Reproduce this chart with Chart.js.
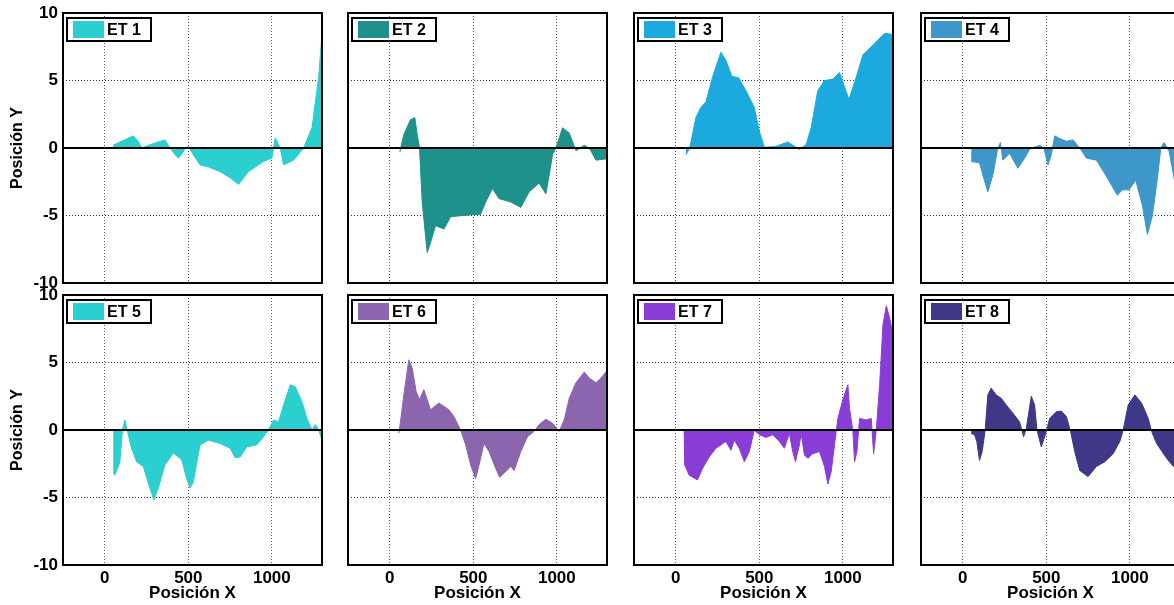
<!DOCTYPE html>
<html>
<head>
<meta charset="utf-8">
<script src="https://cdn.jsdelivr.net/npm/chart.js@4.4.0/dist/chart.umd.min.js"></script>
<style>
  body { margin: 0; width: 1174px; height: 605px; overflow: hidden; background: #fff; position: relative; }
  canvas { position: absolute; }
</style>
</head>
<body>
<script>
// tick labels
const xTicks = [0, 500, 1000];
const yTicks = [-10, -5, 0, 5, 10];

// series names and colours
const names = ['ET 1', 'ET 2', 'ET 3', 'ET 4', 'ET 5', 'ET 6', 'ET 7', 'ET 8'];
const colors = ['#2ccfcf', '#1e918a', '#1ba9de', '#3d98c9', '#2ccfcf', '#8b66ae', '#8a3dd6', '#3f3787'];

// values (Posición X / Posición Y)
const x1 = [50, 100, 170, 200, 220, 260, 320, 360, 390, 415, 440, 470, 480, 500, 530, 570, 620, 690, 750, 800, 860, 950, 1000, 1020, 1050, 1070, 1130, 1190, 1240, 1280, 1300];
const y1 = [0.2, 0.5, 0.9, 0.5, 0, 0.2, 0.45, 0.6, 0, -0.4, -0.75, -0.3, 0, 0.1, -0.5, -1.25, -1.4, -1.75, -2.2, -2.7, -1.75, -1.0, -0.75, 0.75, 0, -1.25, -0.9, 0, 1.5, 5.25, 8.5];

const x2 = [60, 84, 124, 150, 164, 178, 194, 224, 244, 274, 324, 364, 434, 544, 574, 614, 654, 724, 784, 834, 894, 934, 954, 974, 994, 1034, 1074, 1114, 1164, 1194, 1234, 1300];
const y2 = [-0.3, 1.0, 2.1, 2.25, 1.0, 0, -4, -7.75, -7, -5.75, -6, -5.1, -5, -4.9, -4, -3, -3.75, -4, -4.4, -3.25, -2.6, -3.4, -2, -0.5, 0, 1.5, 1.1, -0.2, 0.2, 0, -0.9, -0.8];

const x3 = [60, 84, 120, 150, 180, 220, 270, 300, 336, 376, 420, 470, 500, 530, 600, 670, 740, 780, 810, 850, 890, 940, 980, 1036, 1080, 1120, 1190, 1250, 1300];
const y3 = [-0.5, 0, 2.25, 3, 3.4, 5.25, 7.1, 6.5, 5.3, 5.2, 4.25, 3, 1.25, 0.05, 0.12, 0.45, -0.1, 0.25, 1.5, 4.25, 5, 5.1, 5.6, 3.6, 5.25, 6.9, 7.75, 8.5, 8.4];

const x4 = [50, 100, 120, 150, 180, 210, 225, 240, 280, 330, 370, 400, 460, 485, 510, 530, 550, 580, 620, 660, 700, 740, 800, 855, 925, 955, 995, 1035, 1075, 1105, 1135, 1165, 1185, 1205, 1235, 1270, 1300];
const y4 = [-1, -1.1, -2, -3.25, -2, 0, 0.4, -0.9, -0.4, -1.5, -0.75, -0.1, 0.2, 0, -1.25, -0.5, 0.9, 0.7, 0.5, 0.6, 0, -0.75, -0.9, -2, -3.5, -3.1, -3.1, -2.4, -4.25, -6.4, -5, -2.25, 0, 0.4, -0.25, -2.6, -3.0];

const x5 = [50, 60, 90, 106, 120, 134, 160, 190, 230, 270, 294, 320, 360, 410, 460, 490, 510, 530, 570, 620, 690, 750, 780, 810, 850, 910, 950, 980, 1010, 1040, 1070, 1110, 1140, 1180, 1210, 1240, 1260, 1280, 1300];
const y5 = [-3.1, -3.35, -2.4, 0, 0.75, 0, -1.35, -2.35, -2.7, -4.3, -5.2, -4.3, -2.6, -1.7, -2.2, -3.6, -4.3, -3.85, -1.1, -0.75, -1.0, -1.35, -2.05, -2, -1.25, -1.1, -0.5, 0, 0.75, 0.6, 1.85, 3.35, 3.2, 2.1, 0.85, 0, 0.4, 0, -0.75];

const x6 = [54, 64, 84, 114, 134, 158, 178, 204, 224, 244, 294, 354, 384, 424, 454, 484, 514, 534, 564, 594, 634, 658, 684, 724, 744, 784, 824, 864, 894, 934, 974, 1014, 1044, 1074, 1114, 1164, 1194, 1234, 1264, 1300];
const y6 = [-0.25, 0.6, 2.6, 5.2, 4.6, 2.85, 2.25, 3, 2.25, 1.5, 2, 1.5, 1, 0, -1.1, -2.6, -3.6, -2.6, -1.0, -1.6, -2.85, -3.5, -3.2, -2.7, -3, -1.6, -0.5, -0.1, 0.4, 0.8, 0.5, -0.1, 0.75, 2.35, 3.5, 4.3, 3.85, 3.5, 3.85, 4.4];

const x7 = [50, 54, 80, 130, 160, 200, 240, 300, 330, 350, 380, 410, 440, 470, 500, 540, 580, 620, 650, 680, 700, 716, 740, 750, 770, 790, 820, 860, 890, 910, 930, 950, 970, 1000, 1030, 1040, 1060, 1070, 1084, 1100, 1140, 1170, 1184, 1200, 1220, 1240, 1260, 1280, 1300];
const y7 = [0, -2.6, -3.35, -3.7, -2.85, -2, -1.35, -0.85, -1.5, -0.75, -1.35, -2.35, -1.6, 0, -0.35, -0.55, -0.35, -0.85, -1.35, -0.25, -1.6, -2.35, -1.1, -0.25, -1.85, -2.1, -1.75, -1.6, -2.7, -4, -3.1, -1.1, 0.85, 2.25, 3.35, 1.6, -0.1, -2.35, -1.6, 0.85, 0.75, 0.85, -1.75, 0, 3.35, 7.8, 9.2, 8.3, 7.05];

const x8 = [50, 70, 84, 100, 116, 134, 150, 170, 200, 230, 260, 300, 340, 364, 380, 410, 430, 444, 470, 500, 520, 560, 590, 620, 645, 670, 700, 750, 800, 850, 900, 940, 960, 990, 1030, 1070, 1110, 1130, 1160, 1220, 1260, 1300];
const y8 = [-0.25, -0.35, -0.85, -2.25, -1.6, 0, 2.6, 3.1, 2.6, 2.35, 1.85, 1.25, 0.6, -0.5, 0.1, 2.5, 1.85, 0, -1.25, -0.1, 0.85, 1.35, 1.4, 1, -0.1, -1.6, -3, -3.45, -2.7, -2.35, -1.75, -0.85, 0, 1.85, 2.6, 2, 0.85, -0.1, -1, -2.1, -2.7, -2.5];

const xs = [x1, x2, x3, x4, x5, x6, x7, x8];
const ys = [y1, y2, y3, y4, y5, y6, y7, y8];

// layout of the 2x4 grid (plot area corners)
const plotLefts = [63, 348, 634, 921];
const plotTops = [13, 295];
const plotW = 259, plotH = 270;
const axisW = 63, axisH = 40, padTop = 13, padRight = 4;
const fontFam = '"Liberation Sans", Arial, Helvetica, sans-serif';

// box, zero line and in-plot legend like the matlab area plot
const frame = {
  id: 'frame',
  afterDatasetsDraw(chart) {
    const ctx = chart.ctx;
    const a = chart.chartArea;
    const y0 = chart.scales.y.getPixelForValue(0);
    ctx.save();
    ctx.strokeStyle = '#000';
    ctx.lineWidth = 2;
    ctx.beginPath();
    ctx.moveTo(a.left, y0);
    ctx.lineTo(a.right, y0);
    ctx.stroke();
    ctx.strokeRect(a.left, a.top, a.right - a.left, a.bottom - a.top);

    const ds = chart.data.datasets[0];
    const bx = a.left + 4, by = a.top + 5;
    ctx.fillStyle = '#fff';
    ctx.fillRect(bx, by, 84, 23);
    ctx.strokeRect(bx, by, 84, 23);
    ctx.fillStyle = ds.backgroundColor;
    ctx.fillRect(bx + 6, by + 3, 31, 17);
    ctx.fillStyle = '#000';
    ctx.font = 'bold 16px ' + fontFam;
    ctx.textBaseline = 'middle';
    ctx.fillText(ds.label, bx + 40, by + 12.5);
    ctx.restore();
  }
};

names.forEach((name, i) => {
  const row = Math.floor(i / 4), col = i % 4;
  const cv = document.createElement('canvas');
  cv.width = axisW + plotW + padRight;
  cv.height = padTop + plotH + axisH;
  cv.style.left = (plotLefts[col] - axisW) + 'px';
  cv.style.top = (plotTops[row] - padTop) + 'px';
  document.body.appendChild(cv);

  new Chart(cv, {
    type: 'line',
    data: {
      datasets: [{
        label: name,
        data: xs[i].map((x, k) => ({ x: x, y: ys[i][k] })),
        backgroundColor: colors[i],
        borderColor: colors[i],
        borderWidth: 1,
        fill: 'origin',
        pointRadius: 0,
        tension: 0
      }]
    },
    options: {
      responsive: false,
      animation: false,
      layout: { padding: { top: padTop, right: padRight, left: 0, bottom: 0 } },
      plugins: { legend: { display: false }, tooltip: { enabled: false } },
      scales: {
        x: {
          type: 'linear', min: -250, max: 1300,
          afterBuildTicks: s => { s.ticks = xTicks.map(v => ({ value: v })); },
          afterFit: s => { s.height = axisH; s.paddingLeft = 0; s.paddingRight = 0; },
          grid: { color: '#555', lineWidth: 1, drawTicks: false },
          border: { display: false, dash: [1, 2] },
          ticks: {
            display: row === 1, padding: 3, color: '#000',
            font: { family: fontFam, size: 17, weight: 'bold' },
            callback: v => String(v)
          },
          title: {
            display: row === 1, text: 'Posición X', color: '#000',
            font: { family: fontFam, size: 17, weight: 'bold' },
            padding: { top: 0, bottom: 1 }
          }
        },
        y: {
          min: -10, max: 10,
          afterBuildTicks: s => { s.ticks = yTicks.map(v => ({ value: v })); },
          afterFit: s => { s.width = axisW; s.paddingTop = 0; s.paddingBottom = 0; },
          grid: { color: '#333', lineWidth: 1, drawTicks: false },
          border: { display: false, dash: [1, 2] },
          ticks: {
            display: col === 0, padding: 5, color: '#000',
            font: { family: fontFam, size: 17, weight: 'bold' },
            callback: v => String(v)
          },
          title: {
            display: col === 0, text: 'Posición Y', color: '#000',
            font: { family: fontFam, size: 16, weight: 'bold' },
            padding: { top: 8, bottom: 0 }
          }
        }
      }
    },
    plugins: [frame]
  });
});
</script>
</body>
</html>
